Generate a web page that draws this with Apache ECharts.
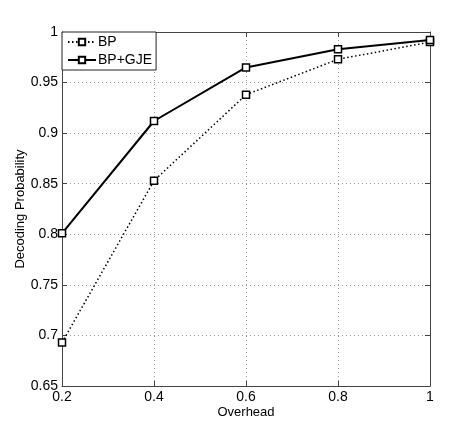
<!DOCTYPE html>
<html><head><meta charset="utf-8">
<script src="https://cdn.jsdelivr.net/npm/echarts@6/dist/echarts.min.js"></script>
<style>html,body{margin:0;padding:0;background:#fff}#c{width:474px;height:434px}</style>
</head><body><div id="c"></div>
<script>
var overhead = [0.2, 0.4, 0.6, 0.8, 1.0];
var bp = [0.693, 0.853, 0.938, 0.973, 0.990];
var bpGje = [0.801, 0.912, 0.965, 0.983, 0.992];
var xTicks = [0.2, 0.4, 0.6, 0.8, 1];
var yTicks = [0.65, 0.7, 0.75, 0.8, 0.85, 0.9, 0.95, 1];

function pairs(xs, ys){ return xs.map(function(x,i){return [x, ys[i]];}); }
function fmt(v){ return String(Math.round(v*100)/100); }

var font = 'Liberation Sans, Arial, sans-serif';
var chart = echarts.init(document.getElementById('c'));
var axisLine = {show:true, lineStyle:{color:'#444', width:1}};
var tick = {show:true, inside:true, length:5, lineStyle:{color:'#444'}};
chart.setOption({
  animation:false,
  backgroundColor:'#fff',
  grid:{left:62, right:44, top:32, bottom:48, containLabel:false},
  legend:{
    left:62, top:32, orient:'vertical', itemGap:4, itemWidth:28, itemHeight:8,
    padding:[3,4,3,5], borderColor:'#222', borderWidth:1, backgroundColor:'#fff',
    textStyle:{fontFamily:font, fontSize:14, color:'#000', padding:[0,0,0,-3]},
    data:['BP','BP+GJE']
  },
  xAxis:[{
    type:'value', min:0.2, max:1, interval:0.2, position:'bottom',
    name:'Overhead', nameLocation:'middle', nameGap:20, nameMoveOverlap:false,
    nameTextStyle:{fontFamily:font, fontSize:13, color:'#000'},
    axisLine:axisLine, axisTick:tick,
    axisLabel:{fontFamily:font, fontSize:14, color:'#000', margin:4, formatter:fmt},
    splitLine:{show:true, lineStyle:{color:'#999', type:[1,3], width:1}}
  },{
    type:'value', min:0.2, max:1, interval:0.2, position:'top',
    axisLine:axisLine, axisTick:tick, axisLabel:{show:false}, splitLine:{show:false}
  }],
  yAxis:[{
    type:'value', min:0.65, max:1, interval:0.05, position:'left',
    name:'Decoding Probability', nameLocation:'middle', nameGap:35, nameMoveOverlap:false,
    nameTextStyle:{fontFamily:font, fontSize:13, color:'#000'},
    axisLine:axisLine, axisTick:tick,
    axisLabel:{fontFamily:font, fontSize:14, color:'#000', margin:4, formatter:fmt},
    splitLine:{show:true, lineStyle:{color:'#999', type:[1,3], width:1}}
  },{
    type:'value', min:0.65, max:1, interval:0.05, position:'right',
    axisLine:axisLine, axisTick:tick, axisLabel:{show:false}, splitLine:{show:false}
  }],
  series:[{
    name:'BP', type:'line', data:pairs(overhead, bp),
    symbol:'rect', symbolSize:7, showSymbol:true,
    itemStyle:{color:'#fff', borderColor:'#000', borderWidth:1.5},
    lineStyle:{color:'#000', width:1.5, type:[1.5,2.5]}
  },{
    name:'BP+GJE', type:'line', data:pairs(overhead, bpGje),
    symbol:'rect', symbolSize:7, showSymbol:true,
    itemStyle:{color:'#fff', borderColor:'#000', borderWidth:1.5},
    lineStyle:{color:'#000', width:2}
  }]
});
</script></body></html>
